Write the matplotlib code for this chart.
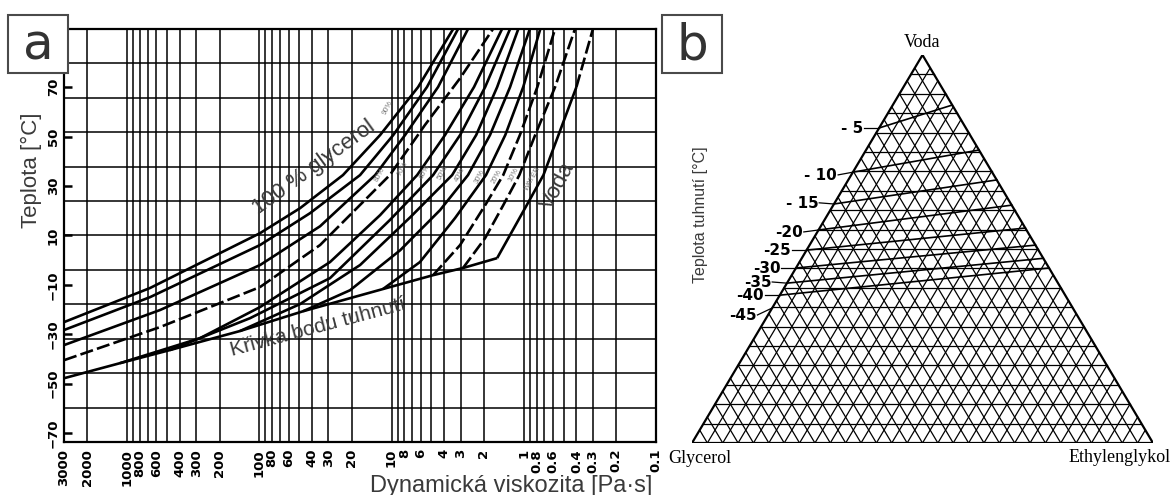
import numpy as np
import matplotlib
matplotlib.use("Agg")
import matplotlib.pyplot as plt
from matplotlib.patches import Rectangle, Polygon

# ---------------- panel a: viscosity vs temperature ----------------
visc_ticks = [3000, 2000, 1000, 800, 600, 400, 300, 200, 100, 80, 60, 40, 30, 20,
              10, 8, 6, 4, 3, 2, 1, 0.8, 0.6, 0.4, 0.3, 0.2, 0.1]
visc_tick_labels = ["3000", "2000", "1000", "800", "600", "400", "300", "200", "100",
                    "80", "60", "40", "30", "20", "10", "8", "6", "4", "3", "2",
                    "1", "0.8", "0.6", "0.4", "0.3", "0.2", "0.1"]
temp_ticks = [70, 50, 30, 10, -10, -30, -50, -70]
temp_tick_labels = ["70", "50", "30", "10", "\u221210", "\u221230", "\u221250", "\u221270"]

g100_visc = [3000, 671, 98.7, 49.2, 23.3, 12.2, 6.3, 3.42]
g100_temp = [-25.1, -11.3, 10.9, 21.0, 34.4, 50.6, 70, 93.5]
g90_visc = [3000, 671, 98.7, 41.3, 17.3, 9.7, 5.4, 3.14]
g90_temp = [-28.3, -15.0, 6.1, 19.0, 34.4, 50.6, 70, 93.5]
g80_visc = [3000, 563, 98.7, 34.7, 13.3, 7.9, 4.45, 2.64]
g80_temp = [-34.4, -20.2, -2.0, 13.7, 34.4, 50.6, 70, 93.5]
gdash_visc = [3000, 563, 98.7, 34.7, 10.3, 5.6, 3.03, 1.71]
gdash_temp = [-40.5, -27.1, -10.9, 6.1, 34.4, 54.6, 73.6, 93.5]
g70_visc = [1131, 281, 98.7, 29.2, 12.2, 6.4, 3.94, 2.38, 1.46]
g70_temp = [-41.7, -31.6, -19.0, -0.8, 18.2, 34.4, 50.6, 70, 93.5]
g60_visc = [474, 117.5, 29.2, 10.3, 4.85, 3.03, 1.96, 1.27]
g60_temp = [-36.4, -23.5, -7.3, 16.2, 34.4, 50.6, 70, 93.5]
g50_visc = [140, 49.2, 17.3, 7.2, 3.48, 2.29, 1.59, 1.10]
g50_temp = [-28.7, -17.8, -2.0, 17.4, 34.4, 50.6, 70, 93.5]
g40_visc = [46.7, 20.6, 8.6, 4.3, 2.64, 1.80, 1.27, 0.90]
g40_temp = [-20.7, -12.2, 4.0, 20.2, 34.4, 50.6, 70, 93.5]
g30_visc = [11.6, 6.1, 3.31, 1.93, 1.38, 1.01, 0.75]
g30_temp = [-11.7, -0.8, 17.0, 34.4, 50.6, 70, 93.5]
g20_visc = [4.85, 3.03, 1.96, 1.43, 1.07, 0.79, 0.58]
g20_temp = [-6.1, 6.1, 22.2, 34.4, 50.6, 70, 93.5]
g10_visc = [2.88, 1.96, 1.43, 1.08, 0.82, 0.58, 0.41]
g10_temp = [-3.2, 8.9, 22.2, 34.4, 50.6, 70, 93.5]
water_visc = [1.59, 0.93, 0.71, 0.55, 0.40, 0.30]
water_temp = [0.8, 23.1, 34.4, 50.2, 70, 93.5]
freeze_visc = [3000, 1131, 474, 140, 46.7, 11.6, 4.85, 2.88, 1.59]
freeze_temp = [-47.8, -41.7, -36.4, -28.7, -20.7, -11.7, -6.1, -3.2, 0.8]

pct_labels = ["90%", "80%", "70%", "60%", "50%", "40%", "30%", "20%", "10%", "WATER"]
pct_label_visc = [10.6, 12.2, 8.2, 5.6, 4.07, 3.03, 2.14, 1.59, 1.2, 0.85]
pct_label_temp = [61.5, 34.4, 37.2, 35.6, 35.2, 34.4, 33.6, 33.6, 34.4, 33.2]

# ---------------- panel b: ternary freezing diagram ----------------
iso_temps = [-5, -10, -15, -20, -25, -30, -35, -40]
iso_water_glycerol_side = [0.812, 0.698, 0.616, 0.549, 0.497, 0.451, 0.412, 0.381]
iso_water_glycol_side = [0.871, 0.755, 0.678, 0.613, 0.554, 0.510, 0.476, 0.451]
iso_label_text = ["- 5", "- 10", "- 15", "-20", "-25", "-30", "-35", "-40", "-45"]
iso_label_edge = [0.812, 0.698, 0.616, 0.549, 0.497, 0.451, 0.412, 0.381, 0.348]
iso_label_level = [0.812, 0.691, 0.619, 0.544, 0.497, 0.451, 0.415, 0.381, 0.330]

TXT = "#3a3a3a"
NARROW = ["Liberation Sans Narrow", "DejaVu Sans"]
SANS = ["Liberation Sans", "DejaVu Sans"]
SERIF = ["Liberation Serif", "DejaVu Serif"]

fig = plt.figure(figsize=(11.73, 4.95), dpi=100)


def px(x0, y0, x1, y1):
    """Figure rectangle from pixel box (top-left origin)."""
    return [x0 / 1173, 1 - y1 / 495, (x1 - x0) / 1173, (y1 - y0) / 495]


# ---- panel a ----
ax = fig.add_axes(px(64, 29, 656, 442))
ax.set_xscale("log")
ymin, ymax = -73.6, 93.5
ax.set_xlim(3000, 0.1)
ax.set_ylim(ymin, ymax)

for t in np.linspace(ymin, ymax, 13)[1:-1]:
    ax.axhline(t, color="black", lw=1.1, zorder=1)
vgrid = [k * 10.0 ** n for n in range(-1, 4) for k in range(1, 10)
         if 0.1 < k * 10.0 ** n < 3000]
for v in vgrid:
    ax.axvline(v, color="black", lw=1.1, zorder=1)

solid = dict(color="black", lw=1.9, zorder=3, solid_capstyle="butt")
dashed = dict(color="black", lw=1.9, zorder=3, dashes=(5, 1.6))
for xs, ys in [(g100_visc, g100_temp), (g90_visc, g90_temp), (g80_visc, g80_temp),
               (g70_visc, g70_temp), (g60_visc, g60_temp), (g50_visc, g50_temp),
               (g40_visc, g40_temp), (g30_visc, g30_temp)]:
    ax.plot(xs, ys, **solid)
for xs, ys in [(gdash_visc, gdash_temp), (g20_visc, g20_temp), (g10_visc, g10_temp)]:
    ax.plot(xs, ys, **dashed)
ax.plot(water_visc[:5], water_temp[:5], **solid)
ax.plot(water_visc[4:], water_temp[4:], **dashed)
ax.plot(freeze_visc, freeze_temp, **solid)

for lab, xv, yv in zip(pct_labels, pct_label_visc, pct_label_temp):
    ax.text(xv, yv, lab, fontsize=5.5, color="#7a7a7a", rotation=62,
            ha="center", va="center", family=SANS, zorder=4)

ax.text(38.5, 37.6, "100 % glycerol", fontsize=16, color=TXT, rotation=36,
        ha="center", va="center", family=SANS, zorder=5)
ax.text(0.55, 30.0, "Voda", fontsize=16, color=TXT, rotation=62,
        ha="center", va="center", family=SANS, zorder=5)
ax.text(36, -27.1, "K\u0159ivka bodu tuhnut\u00ed", fontsize=15, color=TXT, rotation=15,
        ha="center", va="center", family=SANS, zorder=5)

ax.set_xticks(visc_ticks)
ax.set_xticklabels(visc_tick_labels, rotation=90, fontsize=9.5, fontweight="bold",
                   family=NARROW, va="top")
ax.xaxis.set_minor_locator(matplotlib.ticker.NullLocator())
ax.tick_params(axis="x", length=0, pad=5)
ax.set_yticks(temp_ticks)
ax.set_yticklabels(temp_tick_labels, rotation=90, fontsize=9.5, fontweight="bold",
                   family=NARROW, va="center")
ax.tick_params(axis="y", direction="in", length=6, width=1.8, pad=3)
for sp in ax.spines.values():
    sp.set_linewidth(1.6)

fig.text(31 / 1173, 1 - 170 / 495, "Teplota [\u00b0C]", rotation=90, fontsize=16,
         color=TXT, ha="center", va="center", family=SANS)
fig.text(511 / 1173, 1 - 492 / 495, "Dynamick\u00e1 viskozita [Pa\u00b7s]", fontsize=17,
         color=TXT, ha="center", va="baseline", family=SANS)

# ---- panel b ----
bx = fig.add_axes(px(692, 55, 1153, 443))
bx.set_xlim(0, 1)
bx.set_ylim(0, 1)
bx.axis("off")

grid_kw = dict(color="black", lw=0.9, zorder=1)
for k in range(1, 20):
    h = k / 20
    bx.plot([0.5 * h, 1 - 0.5 * h], [h, h], **grid_kw)
for i in range(1, 30):
    e = i / 30
    bx.plot([e, e + 0.5 * (1 - e)], [0, 1 - e], **grid_kw)
    bx.plot([1 - e, 0.5 * (1 - e)], [0, 1 - e], **grid_kw)
bx.add_patch(Polygon([(0, 0), (1, 0), (0.5, 1)], closed=True, fill=False,
                     edgecolor="black", lw=1.6, zorder=3))

for wl, wr in zip(iso_water_glycerol_side, iso_water_glycol_side):
    bx.plot([0.5 * wl, 1 - 0.5 * wr], [wl, wr], color="black", lw=1.2, zorder=2)

for lab, w, lv in zip(iso_label_text, iso_label_edge, iso_label_level):
    x0, y0 = 0.5 * w, w
    bx.plot([x0, x0 - 0.032], [y0, lv], color="black", lw=0.9, clip_on=False)
    bx.text(x0 - 0.034, lv - 0.002, lab, fontsize=11, fontweight="bold", ha="right",
            va="center", color="black", family=["DejaVu Sans"], clip_on=False)

bx.text(0.5, 1.033, "Voda", fontsize=13, family=SERIF, ha="center", va="center",
        color="black", clip_on=False)
bx.text(0.017, -0.04, "Glycerol", fontsize=13, family=SERIF, ha="center", va="center",
        color="black", clip_on=False)
bx.text(0.928, -0.038, "Ethylenglykol", fontsize=13, family=SERIF, ha="center",
        va="center", color="black", clip_on=False)
fig.text(701 / 1173, 1 - 215 / 495, "Teplota tuhnut\u00ed [\u00b0C]", rotation=90,
         fontsize=11.5, color=TXT, ha="center", va="center", family=SANS)

# ---- panel letters ----
for letter, x0 in [("a", 8), ("b", 662)]:
    r = Rectangle((x0 / 1173, 1 - 73 / 495), 60 / 1173, 58 / 495,
                  transform=fig.transFigure, facecolor="white",
                  edgecolor="#4a4a4a", lw=1.5, zorder=10)
    fig.add_artist(r)
    fig.text((x0 + 30) / 1173, 1 - 45 / 495, letter, fontsize=36, color="#333333",
             ha="center", va="center", family=["DejaVu Sans"], zorder=11)

fig.savefig("out.png", dpi=100)
